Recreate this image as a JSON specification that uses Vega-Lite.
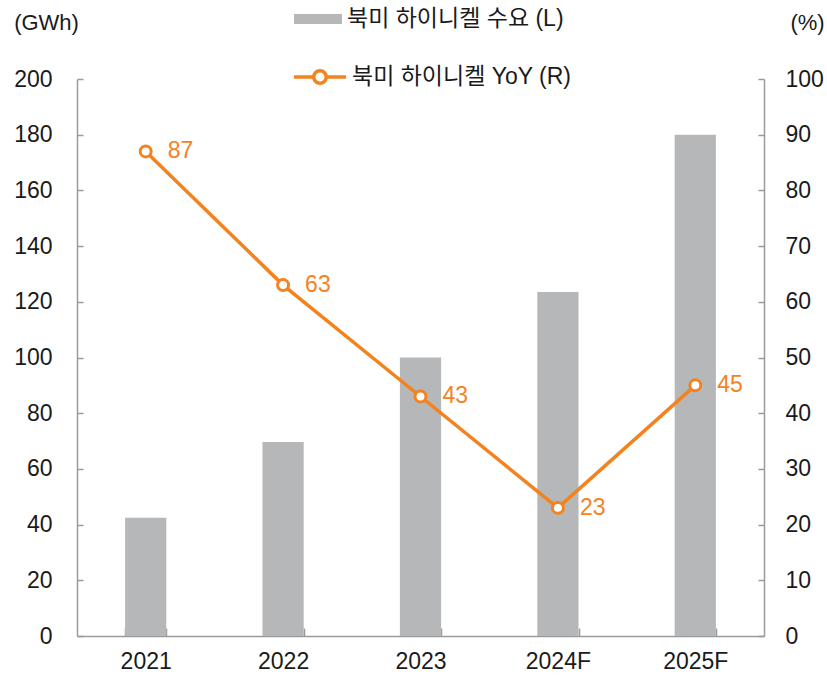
{
  "$schema": "https://vega.github.io/schema/vega-lite/v6.json",
  "width": 687,
  "height": 557,
  "autosize": "none",
  "padding": {"left": 77, "top": 79, "right": 63, "bottom": 40},
  "config": {
    "font": "Liberation Sans, Noto Sans CJK KR",
    "view": {"stroke": null},
    "axis": {"labelFont": "Liberation Sans", "titleFont": "Liberation Sans", "labelColor": "#1a1a1a", "titleColor": "#1a1a1a", "labelFontSize": 23, "titleFontSize": 22, "titleFontWeight": "normal", "domainColor": "#9a9a9a", "tickColor": "#9a9a9a", "domainWidth": 1.5, "tickWidth": 1.5, "grid": false}
  },
  "data": {"values": [
    {"year": "2021", "demand": 42.5, "yoy": 87},
    {"year": "2022", "demand": 69.7, "yoy": 63},
    {"year": "2023", "demand": 100, "yoy": 43},
    {"year": "2024F", "demand": 123.5, "yoy": 23},
    {"year": "2025F", "demand": 180, "yoy": 45}
  ]},
  "encoding": {
    "x": {"field": "year", "type": "nominal", "sort": null,
      "scale": {"paddingInner": 0.7, "paddingOuter": 0.35},
      "axis": {"title": null, "labelAngle": 0, "tickBand": "extent", "tickSize": -8, "labelPadding": 22}}
  },
  "layer": [
    {
      "mark": {"type": "bar", "color": "#B6B7B9"},
      "encoding": {
        "y": {"field": "demand", "type": "quantitative", "scale": {"domain": [0, 200]},
          "axis": {"values": [0,20,40,60,80,100,120,140,160,180,200], "tickSize": -6, "labelPadding": 31, "title": "(GWh)", "titleAngle": 0, "titleX": -31, "titleY": -57, "titleAlign": "center", "titleBaseline": "middle"}},
        "color": {"datum": "북미 하이니켈 수요 (L)", "type": "nominal",
          "scale": {"range": ["#B6B7B9"]},
          "legend": {"title": null, "orient": "none", "legendX": 217, "legendY": -84, "symbolType": "M-1,-0.21H1V0.21H-1Z", "symbolSize": 2304, "symbolStrokeWidth": 0, "labelFontSize": 23, "labelColor": "#1a1a1a", "labelFont": "Liberation Sans, Noto Sans CJK KR", "labelLimit": 0, "labelOffset": 5}}
      }
    },
    {
      "layer": [
        {
          "mark": {"type": "line", "strokeWidth": 3.5, "color": "#F3831F"},
          "encoding": {
            "y": {"field": "yoy", "type": "quantitative", "scale": {"domain": [0, 100]},
              "axis": {"orient": "right", "values": [0,10,20,30,40,50,60,70,80,90,100], "tickSize": -6, "labelPadding": 27, "title": "(%)", "titleAngle": 0, "titleX": 43, "titleY": -57, "titleAlign": "center", "titleBaseline": "middle"}},
            "stroke": {"datum": "북미 하이니켈 YoY (R)", "type": "nominal",
              "scale": {"range": ["#F3831F"]},
              "legend": {"title": null, "orient": "none", "legendX": 215, "legendY": -30, "symbolType": "M-1,0H-0.28M0.28,0H1M-0.24,0A0.24,0.24 0 1,1 0.24,0A0.24,0.24 0 1,1 -0.24,0", "symbolSize": 2704, "symbolStrokeWidth": 3.5, "symbolFillColor": "#ffffff", "labelFontSize": 23, "labelColor": "#1a1a1a", "labelFont": "Liberation Sans, Noto Sans CJK KR", "labelLimit": 0, "labelOffset": 4}}
          }
        },
        {
          "mark": {"type": "point", "shape": "circle", "filled": true, "fill": "#ffffff", "stroke": "#F3831F", "strokeWidth": 3, "size": 120, "opacity": 1},
          "encoding": {"y": {"field": "yoy", "type": "quantitative", "scale": {"domain": [0, 100]}}}
        },
        {
          "mark": {"type": "text", "align": "left", "baseline": "middle", "dx": 22, "fontSize": 23, "color": "#F5821F", "font": "Liberation Sans"},
          "encoding": {"y": {"field": "yoy", "type": "quantitative", "scale": {"domain": [0, 100]}}, "text": {"field": "yoy", "type": "quantitative"}}
        }
      ]
    }
  ],
  "resolve": {"scale": {"y": "independent", "color": "independent"}}
}
